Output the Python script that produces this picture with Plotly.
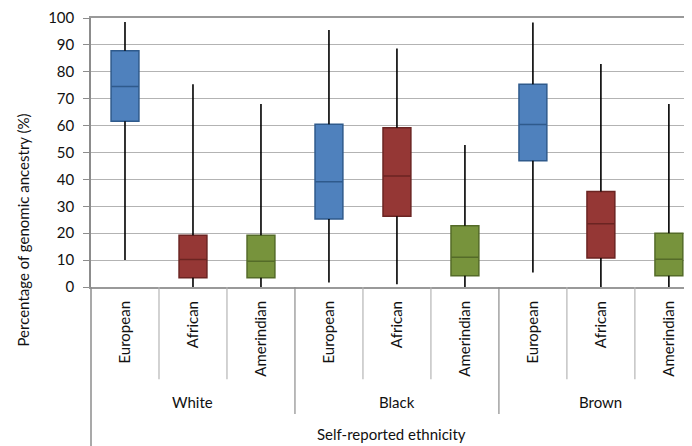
import plotly.graph_objects as go

# ---- data ----
groups = ["White", "Black", "Brown"]
ancestries = ["European", "African", "Amerindian"]
colors = {"European": "#4F81BD", "African": "#953735", "Amerindian": "#77933C"}
outlines = {"European": "#2F5A8C", "African": "#6B2422", "Amerindian": "#546B28"}

# per ancestry, values for White, Black, Brown
whisker_low = {"European": [10, 1.7, 5.4], "African": [0, 1, 0], "Amerindian": [0, 0, 0]}
q1_vals = {"European": [61.6, 25.3, 46.9], "African": [3.4, 26.3, 10.8], "Amerindian": [3.4, 4.2, 4.2]}
median_vals = {"European": [74.5, 39.1, 60.4], "African": [10.2, 41.3, 23.5], "Amerindian": [9.6, 11.1, 10.3]}
q3_vals = {"European": [87.8, 60.5, 75.4], "African": [19.2, 59.2, 35.5], "Amerindian": [19.2, 22.8, 20.0]}
whisker_high = {"European": [98.5, 95.5, 98.3], "African": [75.4, 88.7, 82.9], "Amerindian": [68, 52.8, 68]}

y_ticks = [0, 10, 20, 30, 40, 50, 60, 70, 80, 90, 100]

FONT = "Lato"
TXT = "#111111"
fig = go.Figure()

n_anc = len(ancestries)
# whiskers (black lines, drawn outside the box)
wx, wy = [], []
for ai, anc in enumerate(ancestries):
    for gi in range(len(groups)):
        xi = gi * n_anc + ai
        wx += [xi, xi, None, xi, xi, None]
        wy += [whisker_low[anc][gi], q1_vals[anc][gi], None,
               q3_vals[anc][gi], whisker_high[anc][gi], None]
fig.add_trace(go.Scatter(x=wx, y=wy, mode="lines",
                         line=dict(color="#000000", width=1.6),
                         hoverinfo="skip", showlegend=False))

for ai, anc in enumerate(ancestries):
    xs = [gi * n_anc + ai for gi in range(len(groups))]
    fig.add_trace(go.Box(
        x=xs,
        q1=q1_vals[anc], median=median_vals[anc], q3=q3_vals[anc],
        lowerfence=q1_vals[anc], upperfence=q3_vals[anc],
        fillcolor=colors[anc],
        line=dict(color=outlines[anc], width=1.5),
        whiskerwidth=0, width=0.41, showlegend=False, name=anc,
    ))

tickvals = list(range(len(groups) * n_anc))
ticktext = [a for g in groups for a in ancestries]

shapes = []
# inner dividers and group dividers below the axis
for k in range(1, len(tickvals)):
    xpos = k - 0.5
    if k % n_anc == 0:
        shapes.append(dict(type="line", xref="x", yref="paper", x0=xpos, x1=xpos,
                           y0=0, y1=-0.472, line=dict(color="#8c8c8c", width=1.2)))
    else:
        shapes.append(dict(type="line", xref="x", yref="paper", x0=xpos, x1=xpos,
                           y0=0, y1=-0.343, line=dict(color="#b5b5b5", width=1.2)))
# left axis extension down
shapes.append(dict(type="line", xref="paper", yref="paper", x0=0, x1=0,
                   y0=0, y1=-0.62, line=dict(color="#8c8c8c", width=1.5)))

annotations = []
for gi, g in enumerate(groups):
    annotations.append(dict(text=g, x=gi * n_anc + 1, xref="x", y=-0.428, yref="paper",
                            showarrow=False, xanchor="center", yanchor="middle",
                            font=dict(family=FONT, size=15, color=TXT)))
annotations.append(dict(text="Self-reported ethnicity", x=0.5, xref="paper",
                        y=-0.546, yref="paper", showarrow=False,
                        xanchor="center", yanchor="middle",
                        font=dict(family=FONT, size=15, color=TXT)))
annotations.append(dict(text="Percentage of genomic ancestry (%)", x=0, xref="paper",
                        xshift=-68, y=0.21, yref="paper", textangle=-90,
                        showarrow=False, xanchor="center", yanchor="middle",
                        font=dict(family=FONT, size=15, color=TXT)))

# page body has an 8px margin: shift the figure accordingly
fig.update_layout(
    width=684, height=438,
    margin=dict(l=83, r=0, t=8, b=159),
    paper_bgcolor="white", plot_bgcolor="white",
    boxmode="overlay",
    shapes=shapes, annotations=annotations,
    font=dict(family=FONT, color=TXT),
)
fig.update_xaxes(
    range=[-0.5, 8.34], tickvals=tickvals, ticktext=ticktext, tickangle=-90,
    tickfont=dict(family=FONT, size=15, color=TXT),
    showgrid=False, zeroline=False,
    showline=True, mirror=True, linecolor="#999999", linewidth=2,
    ticks="", ticklabelstandoff=6,
)
fig.update_yaxes(
    range=[0, 100], tickvals=y_ticks,
    tickfont=dict(family=FONT, size=15, color=TXT),
    showgrid=True, gridcolor="#b3b3b3", gridwidth=1,
    zeroline=False, showline=True, linecolor="#8c8c8c", linewidth=1.5,
    ticks="outside", ticklen=6, tickcolor="#8c8c8c",
    ticklabelstandoff=6, ticklabeloverflow="allow",
)

fig.write_html("out.html")
